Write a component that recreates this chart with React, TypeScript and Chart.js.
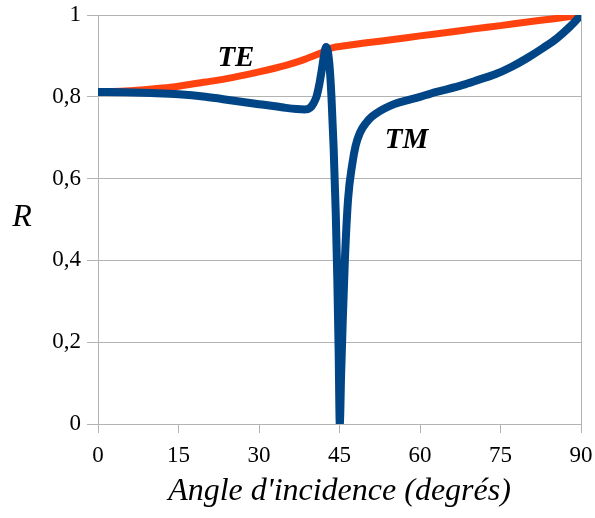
import React, { useEffect, useRef } from 'react';
import { Chart, registerables } from 'chart.js';

Chart.register(...registerables);

// TE polarisation (orange)
const teAngles = [0, 5, 10, 15, 20, 25, 30, 35, 38, 40, 42, 43, 44, 45, 50, 55, 60, 65, 70, 75, 80, 85, 90];
const teValues = [0.812, 0.814, 0.819, 0.826, 0.836, 0.847, 0.861, 0.877, 0.889, 0.899, 0.910, 0.917, 0.921, 0.923, 0.932, 0.940, 0.949, 0.957, 0.966, 0.974, 0.983, 0.991, 1.0];

// TM polarisation (blue)
const tmAngles = [0, 5, 10, 15, 20, 25, 30, 33, 35, 37, 38.5, 39.5, 40.2, 40.7, 41.2, 41.7, 42.1, 42.5, 42.9, 43.2, 43.5, 43.9, 44.3, 44.6, 44.85, 45.05, 45.3, 45.6, 46.0, 46.6, 47.4, 48.0, 48.8, 50, 51, 52.5, 54.4, 56.3, 60, 62, 65, 68, 71, 74, 77, 80, 83, 85.5, 88, 90];
const tmValues = [0.812, 0.811, 0.809, 0.806, 0.800, 0.791, 0.782, 0.777, 0.773, 0.770, 0.769, 0.773, 0.785, 0.800, 0.828, 0.866, 0.900, 0.922, 0.905, 0.866, 0.800, 0.678, 0.516, 0.350, 0.170, 0.0, 0.120, 0.250, 0.400, 0.550, 0.637, 0.680, 0.712, 0.737, 0.751, 0.765, 0.778, 0.787, 0.800, 0.808, 0.818, 0.829, 0.842, 0.855, 0.873, 0.895, 0.920, 0.943, 0.972, 1.0];

// Curve labels (placed in data coordinates)
const curveLabels = ['TE', 'TM'];
const curveLabelAngles = [25.7, 57.5];
const curveLabelValues = [0.875, 0.674];

const xTitle = "Angle d'incidence (degrés)";
const yTitle = 'R';

const X_MIN = 0, X_MAX = 90, X_STEP = 15;
const Y_MIN = 0, Y_MAX = 1, Y_STEP = 0.2;

const FONT = "'Liberation Serif', 'DejaVu Serif', serif";
const GRID = '#b3b3b3';

export default function App() {
  const ref = useRef<HTMLCanvasElement | null>(null);

  useEffect(() => {
    if (!ref.current) return;
    const textPlugin = {
      id: 'texts',
      afterDatasetsDraw(chart: any) {
        const { ctx, chartArea, scales } = chart;
        ctx.save();
        ctx.fillStyle = '#000';
        ctx.textAlign = 'center';
        ctx.textBaseline = 'alphabetic';
        ctx.font = `italic bold 29px ${FONT}`;
        curveLabels.forEach((t, i) => {
          ctx.fillText(t, scales.x.getPixelForValue(curveLabelAngles[i]), scales.y.getPixelForValue(curveLabelValues[i]));
        });
        ctx.font = `italic 32px ${FONT}`;
        ctx.fillText(xTitle, (chartArea.left + chartArea.right) / 2, chartArea.bottom + 76);
        ctx.fillText(yTitle, 22, (chartArea.top + chartArea.bottom) / 2 + 6.5);
        ctx.restore();
      },
    };

    const zeroPad = (s: any) => {
      s.paddingLeft = 0;
      s.paddingRight = 0;
      s.paddingTop = 0;
      s.paddingBottom = 0;
    };

    const chart = new Chart(ref.current, {
      type: 'line',
      data: {
        datasets: [
          {
            label: 'TM',
            data: tmAngles.map((a, i) => ({ x: a, y: tmValues[i] })),
            borderColor: '#004586',
            backgroundColor: '#004586',
            borderWidth: 8,
            pointRadius: 0,
            cubicInterpolationMode: 'monotone',
            borderCapStyle: 'round',
            borderJoinStyle: 'round',
            order: 0,
          },
          {
            label: 'TE',
            data: teAngles.map((a, i) => ({ x: a, y: teValues[i] })),
            borderColor: '#ff420e',
            backgroundColor: '#ff420e',
            borderWidth: 7,
            pointRadius: 0,
            cubicInterpolationMode: 'monotone',
            borderCapStyle: 'round',
            borderJoinStyle: 'round',
            order: 1,
          },
        ],
      },
      options: {
        animation: false,
        responsive: true,
        maintainAspectRatio: false,
        layout: { padding: { top: 15, right: 14, left: 0, bottom: 0 } },
        plugins: { legend: { display: false }, tooltip: { enabled: false } },
        scales: {
          x: {
            type: 'linear',
            min: X_MIN,
            max: X_MAX,
            afterFit: (s: any) => { s.height = 94; zeroPad(s); },
            ticks: { stepSize: X_STEP, color: '#000', padding: 9, font: { family: FONT, size: 23 } },
            grid: {
              color: (c: any) => (c.tick && c.tick.value === X_MAX ? GRID : 'rgba(0,0,0,0)'),
              tickColor: GRID,
              tickLength: 9,
              lineWidth: 1,
            },
            border: { display: true, color: GRID },
          },
          y: {
            type: 'linear',
            min: Y_MIN,
            max: Y_MAX,
            afterFit: (s: any) => { s.width = 98; zeroPad(s); },
            ticks: {
              stepSize: Y_STEP,
              color: '#000',
              padding: 6,
              font: { family: FONT, size: 23 },
              callback: (v: any) => String(Math.round(Number(v) * 10) / 10).replace('.', ','),
            },
            grid: { color: GRID, tickLength: 11, lineWidth: 1 },
            border: { display: true, color: GRID },
          },
        },
      },
      plugins: [textPlugin],
    });
    return () => chart.destroy();
  }, []);

  return (
    <div style={{ position: 'absolute', left: 0, top: 0, width: 595, height: 518 }}>
      <canvas ref={ref} />
    </div>
  );
}
